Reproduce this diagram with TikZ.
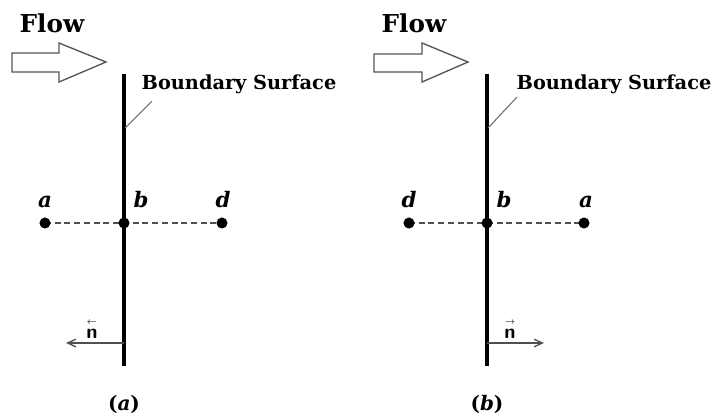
\documentclass[tikz,border=0pt]{standalone}
\usepackage{amsmath,amssymb}
\usepackage{fontspec}
\setmainfont{DejaVu Serif}
\usepackage{xcolor}
\usepackage{tikz}
\usetikzlibrary{arrows.meta,backgrounds}
\definecolor{dashg}{RGB}{80,80,80}
\definecolor{leadg}{RGB}{110,110,110}
\definecolor{outg}{RGB}{85,85,85}
\newcommand{\lvec}[1]{\overset{\scriptscriptstyle\leftarrow}{#1}}
\newcommand{\rvec}[1]{\overset{\scriptscriptstyle\rightarrow}{#1}}

\begin{document}
\begin{tikzpicture}[
  x=0.75pt, y=-0.75pt,
  >={Straight Barb[length=2.2mm,width=2mm]},
  every node/.style={inner sep=0pt},
  dot/.style={circle, fill=black, minimum size=8.3pt},
  ptlab/.style={font=\fontsize{16}{20}\selectfont\bfseries\itshape, anchor=base},
  flowlab/.style={font=\fontsize{18.5}{22}\selectfont\bfseries, anchor=base},
  surflab/.style={font=\fontsize{14.5}{18}\selectfont\bfseries, anchor=base},
  caplab/.style={font=\fontsize{15}{18}\selectfont\bfseries, anchor=base},
  nlab/.style={font=\fontsize{15}{16}\selectfont, anchor=base},
  wall/.style={line width=2.4pt, black},
  dashline/.style={dash pattern=on 4.5pt off 2.8pt, line width=1.5pt, dashg},
  leader/.style={line width=0.8pt, leadg},
  normal/.style={->, line width=1pt, dashg},
  flowarrow/.style={draw=outg, line width=1pt, fill=white, line join=miter},
]
\useasboundingbox (0,0) rectangle (714,419);

% (a)
\node[flowlab] (flow1) at (52,32) {Flow};
\draw[flowarrow] (12,53) -- (59,53) -- (59,43) -- (106,62) -- (59,82) -- (59,72) -- (12,72) -- cycle;
\coordinate (top1) at (124,74);
\coordinate (bot1) at (124,366);
\draw[wall] (top1) -- (bot1);
\node[surflab] (surf1) at (239,89) {Boundary Surface};
\coordinate (lead1) at (152,101);
\coordinate (lwall1) at (125,128);
\draw[leader] (lead1) -- (lwall1);
\node[dot] (a1) at (45,223) {};
\node[dot] (b1) at (124,223) {};
\node[dot] (d1) at (222,223) {};
\begin{scope}[on background layer]
  \draw[dashline] (a1.center) -- (d1.center);
\end{scope}
\node[ptlab] (la1) at (45,207) {a};
\node[ptlab] (lb1) at (141,207) {b};
\node[ptlab] (ldd1) at (223,207) {d};
\coordinate (n01) at (124,343);
\coordinate (n11) at (66,343);
\draw[normal] (n01) -- (n11);
\node[nlab] (nn1) at (92,338) {$\lvec{\textsf{\bfseries n}}$};
\node[caplab] (cap1) at (124,410) {(\textit{a})};

% (b)
\node[flowlab] (flow2) at (414,32) {Flow};
\draw[flowarrow] (374,54) -- (422,54) -- (422,43) -- (468,62) -- (422,82) -- (422,72) -- (374,72) -- cycle;
\coordinate (top2) at (487,74);
\coordinate (bot2) at (487,366);
\draw[wall] (top2) -- (bot2);
\node[surflab] (surf2) at (614,89) {Boundary Surface};
\coordinate (lead2) at (517,97);
\coordinate (lwall2) at (488,128);
\draw[leader] (lead2) -- (lwall2);
\node[dot] (d2) at (409,223) {};
\node[dot] (b2) at (487,223) {};
\node[dot] (a2) at (584,223) {};
\begin{scope}[on background layer]
  \draw[dashline] (d2.center) -- (a2.center);
\end{scope}
\node[ptlab] (ldd2) at (409,207) {d};
\node[ptlab] (lb2) at (504,207) {b};
\node[ptlab] (la2) at (586,207) {a};
\coordinate (n02) at (487,343);
\coordinate (n12) at (544,343);
\draw[normal] (n02) -- (n12);
\node[nlab] (nn2) at (510,338) {$\rvec{\textsf{\bfseries n}}$};
\node[caplab] (cap2) at (487,410) {(\textit{b})};
\end{tikzpicture}
\end{document}
